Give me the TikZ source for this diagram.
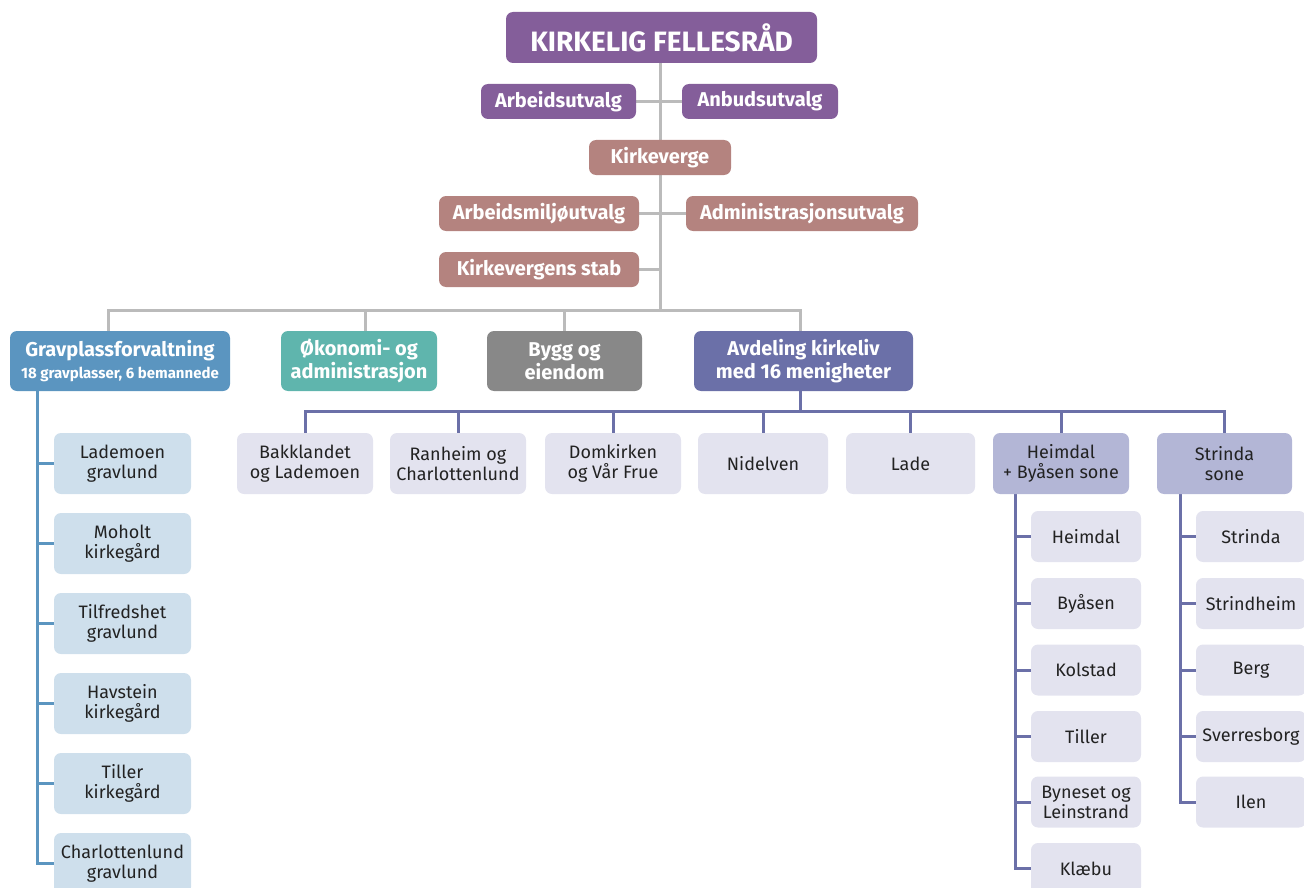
\documentclass[tikz,border=0pt]{standalone}
\usepackage{fontspec}
\setmainfont{Fira Sans}
\usepackage{tikz}
\usetikzlibrary{backgrounds}

\definecolor{rad}{HTML}{845E9A}
\definecolor{verge}{HTML}{B4837F}
\definecolor{grav}{HTML}{5B95C0}
\definecolor{okon}{HTML}{5FB5AD}
\definecolor{bygg}{HTML}{888888}
\definecolor{kirke}{HTML}{6B70A8}
\definecolor{sone}{HTML}{B3B6D6}
\definecolor{menig}{HTML}{E3E3EF}
\definecolor{gravlys}{HTML}{CEDFEC}
\definecolor{linje}{HTML}{BBBBBB}
\definecolor{tekst}{HTML}{222222}

\tikzset{
  box/.style={rounded corners=7pt, align=center, inner sep=0pt},
  hoved/.style={box, text=white, font=\bfseries\fontsize{20}{23}\selectfont},
  enhet/.style={box, text=white, font=\bfseries\fontsize{20}{23}\selectfont, minimum height=60pt},
  lys/.style={box, text=tekst, font=\fontsize{18}{20}\selectfont},
}

\begin{document}
\begin{tikzpicture}[x=1pt,y=-1pt]
        \useasboundingbox (0,0) rectangle (1304,888);
        \clip (0,0) rectangle (1304,888);

        % Top of the organisation
        \node[hoved, fill=rad, minimum width=311pt, minimum height=51pt,
              font=\bfseries\fontsize{28}{30}\selectfont] (fr) at (661.5,37.5) {KIRKELIG FELLESRÅD};
        \node[hoved, fill=rad, minimum width=155pt, minimum height=35pt] (au) at (558.5,101.5) {Arbeidsutvalg};
        \node[hoved, fill=rad, minimum width=156pt, minimum height=35pt] (anbud) at (760,101.5) {Anbudsutvalg};

        % Kirkeverge with committees and staff
        \node[hoved, fill=verge, minimum width=142pt, minimum height=35pt] (kv) at (660,157.5) {Kirkeverge};
        \node[hoved, fill=verge, minimum width=200pt, minimum height=35pt] (amu) at (539,213.5) {Arbeidsmiljøutvalg};
        \node[hoved, fill=verge, minimum width=232pt, minimum height=35pt] (adm) at (802,213.5) {Administrasjonsutvalg};
        \node[hoved, fill=verge, minimum width=200pt, minimum height=35pt] (stab) at (539,269.5) {Kirkevergens stab};

        % Departments
        \node[enhet, fill=grav, minimum width=220pt] (gpf) at (120,361)
             {Gravplassforvaltning\\[-1pt]{\fontsize{15}{17}\selectfont 18 gravplasser, 6 bemannede}};
        \node[enhet, fill=okon, minimum width=156pt] (oa) at (359,361) {Økonomi- og\\administrasjon};
        \node[enhet, fill=bygg, minimum width=155pt] (be) at (564.5,361) {Bygg og\\eiendom};
        \node[enhet, fill=kirke, minimum width=219pt] (ak) at (803.5,361) {Avdeling kirkeliv\\med 16 menigheter};

        % Congregations
        \node[lys, fill=menig, minimum width=136pt, minimum height=61pt] (bakk) at (305,463.5) {Bakklandet\\og Lademoen};
        \node[lys, fill=menig, minimum width=136pt, minimum height=61pt] (ranh) at (458,463.5) {Ranheim og\\Charlottenlund};
        \node[lys, fill=menig, minimum width=136pt, minimum height=61pt] (dom) at (613,463.5) {Domkirken\\og Vår Frue};
        \node[lys, fill=menig, minimum width=130pt, minimum height=61pt] (nid) at (763,463.5) {Nidelven};
        \node[lys, fill=menig, minimum width=129pt, minimum height=61pt] (lade) at (910.5,463.5) {Lade};
        \node[lys, fill=sone, minimum width=136pt, minimum height=61pt] (hbs) at (1061,463.5) {Heimdal\\+ Byåsen sone};
        \node[lys, fill=sone, minimum width=135pt, minimum height=61pt] (ss) at (1224.5,463.5) {Strinda\\sone};

        % Heimdal + Byåsen sone
        \node[lys, fill=menig, minimum width=110pt, minimum height=51pt] (h1) at (1086,536.5) {Heimdal};
        \node[lys, fill=menig, minimum width=110pt, minimum height=51pt] (h2) at (1086,603.5) {Byåsen};
        \node[lys, fill=menig, minimum width=110pt, minimum height=51pt] (h3) at (1086,670) {Kolstad};
        \node[lys, fill=menig, minimum width=110pt, minimum height=51pt] (h4) at (1086,736.5) {Tiller};
        \node[lys, fill=menig, minimum width=110pt, minimum height=51pt] (h5) at (1086,802) {Byneset og\\Leinstrand};
        \node[lys, fill=menig, minimum width=110pt, minimum height=51pt] (h6) at (1086,868.5) {Klæbu};

        % Strinda sone
        \node[lys, fill=menig, minimum width=110pt, minimum height=51pt] (s1) at (1251,536.5) {Strinda};
        \node[lys, fill=menig, minimum width=110pt, minimum height=51pt] (s2) at (1251,603.5) {Strindheim};
        \node[lys, fill=menig, minimum width=110pt, minimum height=51pt] (s3) at (1251,670) {Berg};
        \node[lys, fill=menig, minimum width=110pt, minimum height=51pt] (s4) at (1251,736.5) {Sverresborg};
        \node[lys, fill=menig, minimum width=110pt, minimum height=51pt] (s5) at (1251,802) {Ilen};

        % Cemeteries
        \node[lys, fill=gravlys, minimum width=137pt, minimum height=61pt] (g1) at (122.5,463.5) {Lademoen\\gravlund};
        \node[lys, fill=gravlys, minimum width=137pt, minimum height=61pt] (g2) at (122.5,543.5) {Moholt\\kirkegård};
        \node[lys, fill=gravlys, minimum width=137pt, minimum height=61pt] (g3) at (122.5,623.5) {Tilfredshet\\gravlund};
        \node[lys, fill=gravlys, minimum width=137pt, minimum height=61pt] (g4) at (122.5,703.5) {Havstein\\kirkegård};
        \node[lys, fill=gravlys, minimum width=137pt, minimum height=61pt] (g5) at (122.5,783.5) {Tiller\\kirkegård};
        \node[lys, fill=gravlys, minimum width=137pt, minimum height=61pt] (g6) at (122.5,863.5) {Charlottenlund\\gravlund};

        \begin{scope}[on background layer]
        % Grey lines of the administration
        \begin{scope}[draw=linje, line width=3pt]
            \draw (fr.south -| kv.north) -- (660,310);
            \draw (au.east) -- (au.east -| kv.north);
            \draw (anbud.west) -- (anbud.west -| kv.north);
            \draw (amu.east) -- (amu.east -| kv.north);
            \draw (adm.west) -- (adm.west -| kv.north);
            \draw (stab.east) -- (stab.east -| kv.north);
            \draw (gpf.north -| 108,0) -- ++(0,-20) -| (ak.north -| 800,0);
            \draw (oa.north -| 365,0) -- ++(0,-20);
            \draw (be.north) -- ++(0,-20);
        \end{scope}

        % Lines of Avdeling kirkeliv
        \begin{scope}[draw=kirke, line width=3pt]
            \draw (ak.south -| 800,0) -- ++(0,21);
            \draw (bakk.north) -- ++(0,-21) -| (ss.north);
            \foreach \m in {ranh,dom,nid,lade,hbs}
                \draw (\m.north) -- ++(0,-21);
            \draw (hbs.south -| 1015,0) -- (h6.west -| 1015,0) -- (h6.west);
            \foreach \m in {h1,h2,h3,h4,h5}
                \draw (\m.west) -- (\m.west -| 1015,0);
            \draw (ss.south -| 1180,0) -- (s5.west -| 1180,0) -- (s5.west);
            \foreach \m in {s1,s2,s3,s4}
                \draw (\m.west) -- (\m.west -| 1180,0);
        \end{scope}

        % Lines of Gravplassforvaltning
        \begin{scope}[draw=grav, line width=3pt]
            \draw (gpf.south -| 37,0) -- (g6.west -| 37,0) -- (g6.west);
            \foreach \g in {g1,g2,g3,g4,g5}
                \draw (\g.west) -- (\g.west -| 37,0);
        \end{scope}
        \end{scope}

    \end{tikzpicture}
\end{document}
